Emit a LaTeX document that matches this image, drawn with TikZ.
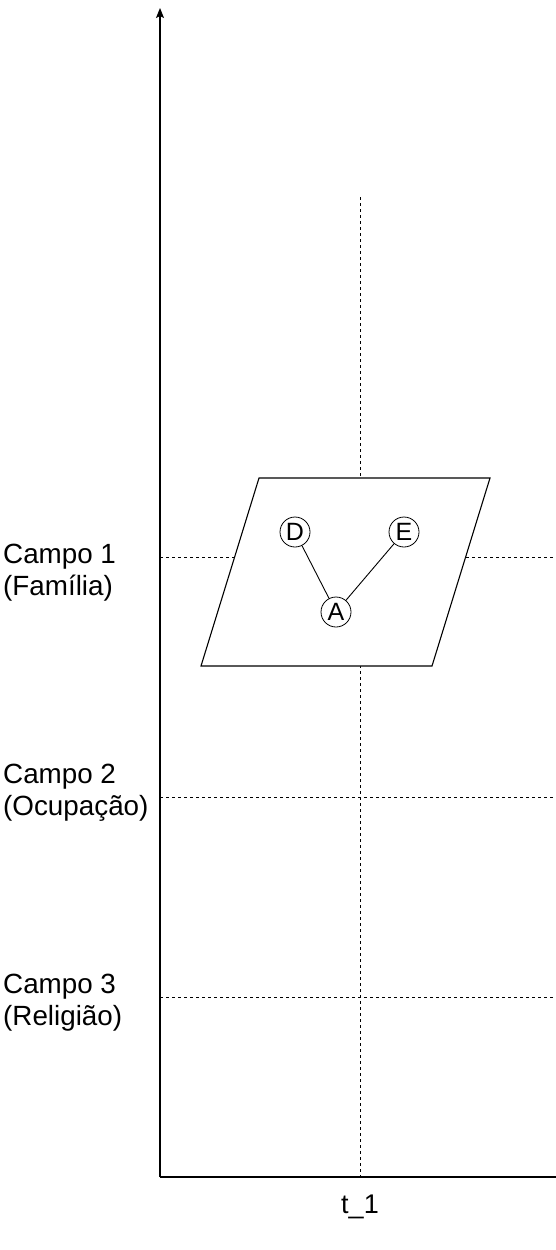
\documentclass[tikz,border=0pt]{standalone}
\usepackage{fontspec}
\setmainfont{Liberation Sans}
\usetikzlibrary{arrows.meta, positioning}

\begin{document}
\begin{tikzpicture}[
    x=1pt, y=-1pt,
    axis/.style={line width=1.2pt, -{Stealth[length=10pt, width=8pt, inset=2pt]}},
    grid/.style={densely dashed, line width=0.8pt, dash pattern=on 3pt off 3pt},
    plane/.style={draw, fill=white, line width=1.1pt},
    actor/.style={circle, draw, fill=white, line width=0.8pt, minimum size=30pt, inner sep=0pt, font=\fontsize{25}{25}\selectfont},
    tie/.style={line width=0.9pt},
    field/.style={anchor=west, align=left, inner sep=0pt, font=\fontsize{27.8}{32}\selectfont}
]
\useasboundingbox (0,0) rectangle (556,1250);

% axes
\coordinate (origin) at (160,1177);
\coordinate (ytop) at (160,8);
\coordinate (xend) at (556,1177);

% time line and field lines
\coordinate (t1top) at (360,197);
\coordinate (t1bot) at (360,1177);
\draw[grid] (t1top) -- (t1bot);
\foreach \name/\y in {f1/557, f2/797, f3/997} {
    \coordinate (\name l) at (160,\y);
    \coordinate (\name r) at (556,\y);
    \draw[grid] (\name l) -- (\name r);
}

\draw[axis] (origin) -- (ytop);
\draw[line width=1.2pt] (origin) -- (xend);

% plane at t_1
\draw[plane] (259,478) -- (490,478) -- (432,666) -- (201,666) -- cycle;

\node[actor] (D) at (295,532) {D};
\node[actor] (E) at (404,532) {E};
\node[actor] (A) at (336,612) {A};

\draw[tie] (D) -- (A);
\draw[tie] (E) -- (A);

% labels
\node[field] (campo1) at (3,573) {Campo 1\\(Família)};
\node[field] (campo2) at (3,793) {Campo 2\\(Ocupação)};
\node[field] (campo3) at (3,1003) {Campo 3\\(Religião)};
\node[font=\fontsize{27}{27}\selectfont, below=18pt of t1bot, inner sep=0pt] (t1) {t\_1};

\end{tikzpicture}
\end{document}
